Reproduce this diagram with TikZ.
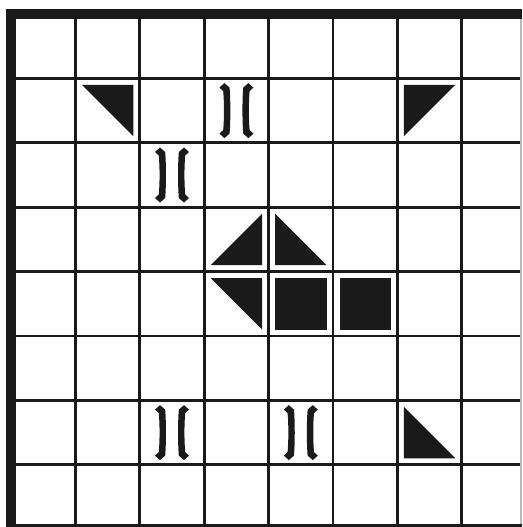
\documentclass[tikz,border=0pt]{standalone}
\definecolor{ink}{HTML}{1A1A1A}
\tikzset{
  gridthin/.style={draw=ink,line width=2.8},
  borderline/.style={draw=ink,line width=10},
  blk/.style={fill=ink},
}
\newcommand\brstroke{%
  \fill[ink] (-12,-27.5) -- (-6.8,-23) .. controls (-5.8,-10) and (-5.8,10) .. (-6.8,23) -- (-12,27.5) -- (-17,23) -- (-13.2,19.5) .. controls (-12.2,8) and (-12.2,-8) .. (-13.2,-19.5) -- (-17,-23) -- cycle;}
\newcommand\brglyph{%
  \begin{scope}[shift={(32.2,32.2)}]
    \brstroke
    \begin{scope}[xscale=-1]\brstroke\end{scope}
  \end{scope}}
\begin{document}
\begin{tikzpicture}[x=1pt,y=-1pt]
\useasboundingbox (0,0) rectangle (522,527);
\clip (0,0) rectangle (522,527);
\fill[white] (0,0) rectangle (522,527);
% thin grid
\foreach \i in {1,...,7} \draw[gridthin] ({11+64.4*\i},14) -- ({11+64.4*\i},527);
\foreach \j in {1,...,7} \draw[gridthin] (11,{14+64.4*\j}) -- (522,{14+64.4*\j});
\draw[gray!55,line width=1.5] (521,14) -- (521,527);
% thick border
\draw[borderline] (11,9) -- (11,527);
\draw[borderline] (6,14) -- (522,14);
\draw[borderline] (6,529) -- (522,529);
% row 1
\begin{scope}[shift={({11+64.4*1},{14+64.4*1})}]
  \fill[blk] (6.5,6.5) -- (57.9,6.5) -- (57.9,57.9) -- cycle;
\end{scope}
\begin{scope}[shift={({11+64.4*3},{14+64.4*1})}]\brglyph\end{scope}
\begin{scope}[shift={({11+64.4*6},{14+64.4*1})}]
  \fill[blk] (6.5,6.5) -- (57.9,6.5) -- (6.5,57.9) -- cycle;
\end{scope}
% row 2
\begin{scope}[shift={({11+64.4*2},{14+64.4*2})}]\brglyph\end{scope}
% row 3
\begin{scope}[shift={({11+64.4*3},{14+64.4*3})}]
  \fill[blk] (6.5,57.9) -- (57.9,57.9) -- (57.9,6.5) -- cycle;
\end{scope}
\begin{scope}[shift={({11+64.4*4},{14+64.4*3})}]
  \fill[blk] (6.5,6.5) -- (6.5,57.9) -- (57.9,57.9) -- cycle;
\end{scope}
% row 4
\begin{scope}[shift={({11+64.4*3},{14+64.4*4})}]
  \fill[blk] (6.5,6.5) -- (57.9,6.5) -- (57.9,57.9) -- cycle;
\end{scope}
\begin{scope}[shift={({11+64.4*4},{14+64.4*4})}]
  \fill[blk] (6.5,6.5) rectangle (57.9,57.9);
\end{scope}
\begin{scope}[shift={({11+64.4*5},{14+64.4*4})}]
  \fill[blk] (6.5,6.5) rectangle (57.9,57.9);
\end{scope}
% row 6
\begin{scope}[shift={({11+64.4*2},{14+64.4*6})}]\brglyph\end{scope}
\begin{scope}[shift={({11+64.4*4},{14+64.4*6})}]\brglyph\end{scope}
\begin{scope}[shift={({11+64.4*6},{14+64.4*6})}]
  \fill[blk] (6.5,6.5) -- (6.5,57.9) -- (57.9,57.9) -- cycle;
\end{scope}
\end{tikzpicture}
\end{document}
